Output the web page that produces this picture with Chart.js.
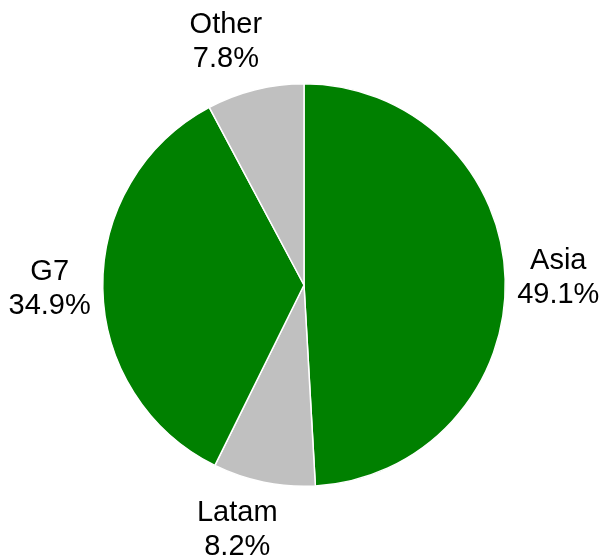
<!DOCTYPE html>
<html>
<head>
<meta charset="utf-8">
<script src="https://cdn.jsdelivr.net/npm/chart.js@4"></script>
<style>
  body { margin: 0; background: #fff; }
  canvas { display: block; }
</style>
</head>
<body>
<canvas id="pie" width="602" height="557"></canvas>
<script>
// Slice data, clockwise from 12 o'clock
const regions = ["Asia", "Latam", "G7", "Other"];
const shares = [49.1, 8.2, 34.9, 7.8];
const sliceColors = ["#008000", "#C0C0C0", "#008000", "#C0C0C0"];

// Draws "name\nvalue%" outside each slice; the label box sits just off the rim
const outsideLabels = {
  id: "outsideLabels",
  afterDatasetsDraw(chart) {
    const ctx = chart.ctx;
    const meta = chart.getDatasetMeta(0);
    const lineGap = 34;
    ctx.save();
    ctx.font = "29px 'Liberation Sans', Arial, sans-serif";
    ctx.fillStyle = "#000";
    ctx.textAlign = "center";
    ctx.textBaseline = "middle";
    meta.data.forEach((arc, i) => {
      const p = arc.getProps(["x", "y", "startAngle", "endAngle", "outerRadius"], true);
      const mid = (p.startAngle + p.endAngle) / 2;
      const ux = Math.cos(mid), uy = Math.sin(mid);
      const anchorR = p.outerRadius + 12;
      const top = regions[i];
      const bottom = shares[i].toFixed(1) + "%";
      const halfW = Math.max(ctx.measureText(top).width, ctx.measureText(bottom).width) / 2;
      const halfH = 37;
      const sx = Math.sign(ux) * Math.min(1, Math.abs(ux) * 3);
      const cx = p.x + ux * anchorR + sx * halfW;
      const cy = p.y + uy * anchorR + uy * halfH;
      ctx.fillText(top, cx, cy - lineGap / 2);
      ctx.fillText(bottom, cx, cy + lineGap / 2);
    });
    ctx.restore();
  }
};

new Chart(document.getElementById("pie"), {
  type: "pie",
  data: {
    labels: regions,
    datasets: [{
      data: shares,
      backgroundColor: sliceColors,
      borderColor: "#fff",
      borderWidth: 1.5
    }]
  },
  options: {
    responsive: false,
    animation: false,
    layout: { padding: { top: 83, bottom: 70, left: 102, right: 96 } },
    plugins: {
      legend: { display: false },
      tooltip: { enabled: false }
    }
  },
  plugins: [outsideLabels]
});
</script>
</body>
</html>
